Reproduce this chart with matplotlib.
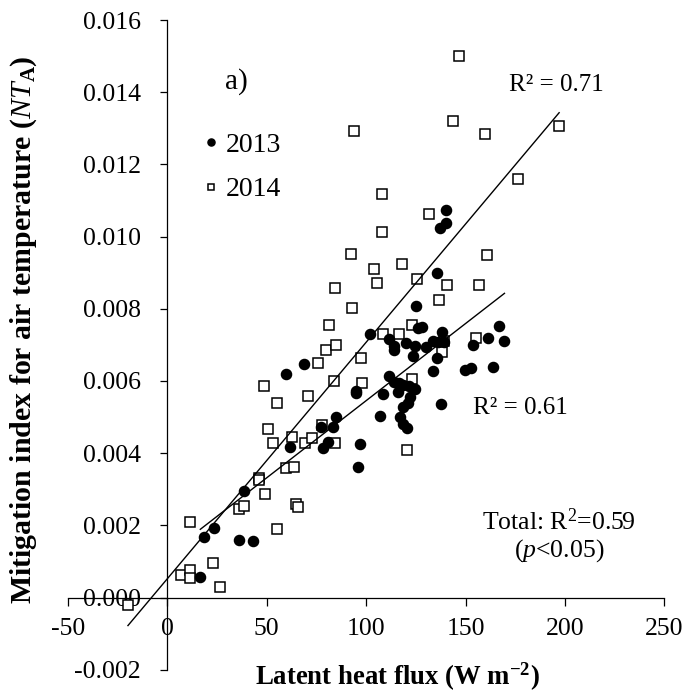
import matplotlib.pyplot as plt
import numpy as np

plt.rcParams["font.family"] = ["Liberation Serif", "DejaVu Serif"]
plt.rcParams["mathtext.fontset"] = "custom"
plt.rcParams["mathtext.rm"] = "Liberation Serif"
plt.rcParams["mathtext.it"] = "Liberation Serif:italic"
plt.rcParams["mathtext.bf"] = "Liberation Serif:bold"
plt.rcParams["mathtext.bfit"] = "Liberation Serif:bold:italic"

# 2013 (filled circles)
x_2013 = [16.6, 18.3, 23.6, 35.9, 43.1, 38.6, 59.7, 68.9, 61.8, 77.2,
          83.2, 85.0, 80.7, 78.2, 94.9, 94.9, 97.0, 95.8, 101.8, 106.8,
          108.4, 111.6, 114.0, 114.0, 119.9, 124.5, 123.8, 130.0, 133.5, 136.0,
          139.3, 135.8, 133.4, 126.3, 128.3, 138.3, 125.0, 135.8, 137.0, 140.0,
          140.0, 154.0, 161.2, 169.6, 166.8, 149.7, 152.7, 163.7, 111.6, 113.8,
          116.3, 118.8, 121.8, 124.6, 115.9, 122.0, 121.0, 118.8, 117.2, 118.8,
          120.8, 137.6]
y_2013 = [0.00058, 0.00168, 0.00192, 0.00159, 0.00157, 0.00295, 0.00619, 0.00646, 0.00418, 0.00472,
          0.00472, 0.00499, 0.00430, 0.00413, 0.00573, 0.00566, 0.00426, 0.00362, 0.00731, 0.00503,
          0.00563, 0.00716, 0.00697, 0.00686, 0.00704, 0.00698, 0.00670, 0.00693, 0.00711, 0.00709,
          0.00707, 0.00663, 0.00627, 0.00746, 0.00750, 0.00736, 0.00808, 0.00900, 0.01023, 0.01037,
          0.01073, 0.00700, 0.00720, 0.00712, 0.00753, 0.00630, 0.00636, 0.00639, 0.00614, 0.00598,
          0.00593, 0.00589, 0.00587, 0.00577, 0.00570, 0.00556, 0.00538, 0.00529, 0.00499, 0.00481,
          0.00470, 0.00536]

# 2014 (open squares)
x_2014 = [-19.8, 6.7, 11.2, 11.6, 11.6, 23.0, 26.5, 35.9, 38.7, 46.2,
          46.2, 48.9, 48.7, 50.4, 53.4, 55.0, 55.0, 59.6, 63.5, 62.5,
          64.6, 65.8, 69.1, 70.9, 73.0, 75.8, 77.7, 79.6, 81.3, 83.6,
          85.0, 84.5, 84.4, 93.0, 92.3, 94.0, 97.5, 98.1, 104.2, 105.4,
          107.9, 107.9, 108.4, 116.4, 118.2, 120.8, 123.0, 123.1, 125.6, 131.7,
          136.9, 138.0, 139.0, 140.7, 143.9, 146.7, 155.2, 156.6, 159.6, 160.8,
          176.6, 197.1]
y_2014 = [-0.00021, 0.00062, 0.00076, 0.00055, 0.00209, 0.00096, 0.00030, 0.00244, 0.00254, 0.00330,
          0.00326, 0.00286, 0.00586, 0.00466, 0.00429, 0.00540, 0.00189, 0.00360, 0.00362, 0.00446,
          0.00259, 0.00250, 0.00429, 0.00559, 0.00443, 0.00649, 0.00478, 0.00686, 0.00755, 0.00599,
          0.00700, 0.00429, 0.00857, 0.00803, 0.00953, 0.01293, 0.00663, 0.00593, 0.00909, 0.00870,
          0.01117, 0.01013, 0.00731, 0.00731, 0.00924, 0.00409, 0.00605, 0.00754, 0.00882, 0.01062,
          0.00824, 0.00679, 0.00710, 0.00867, 0.01321, 0.01501, 0.00720, 0.00867, 0.01284, 0.00950,
          0.01159, 0.01306]

x_ticks = [-50, 0, 50, 100, 150, 200, 250]
y_ticks = [-0.002, 0.0, 0.002, 0.004, 0.006, 0.008, 0.010, 0.012, 0.014, 0.016]

fig = plt.figure(figsize=(6.84, 6.95), dpi=100)
ax = fig.add_axes([0.0993, 0.0364, 0.8719, 0.9348])

ax.plot(x_2014, y_2014, ls="none", marker="s", ms=6.6, mfc="white", mec="black",
        mew=1.1, label="2014", zorder=3)
ax.plot(x_2013, y_2013, ls="none", marker="o", ms=7.3, mfc="black", mec="black",
        label="2013", zorder=4)

# linear trendlines over each year's data range
for xs, ys in [(x_2013, y_2013), (x_2014, y_2014)]:
    xs = np.array(xs)
    k, b = np.polyfit(xs, ys, 1)
    xx = np.array([xs.min(), xs.max()])
    ax.plot(xx, k * xx + b, color="black", lw=1.0, zorder=5)

ax.set_xlim(-50, 250)
ax.set_ylim(-0.002, 0.016)
ax.set_xticks(x_ticks)
ax.set_yticks(y_ticks)
ax.set_xticklabels([str(v) for v in x_ticks])
ax.set_yticklabels([f"{v:.3f}" for v in y_ticks])

ax.spines["left"].set_position(("data", 0))
ax.spines["bottom"].set_position(("data", 0))
ax.spines["top"].set_visible(False)
ax.spines["right"].set_visible(False)
for s in ["left", "bottom"]:
    ax.spines[s].set_linewidth(0.9)
ax.tick_params(axis="y", direction="out", length=5, width=0.9, pad=14, labelsize=18.5)
ax.tick_params(axis="x", direction="out", length=6, width=0.9, pad=9, labelsize=18.5)

ax.patch.set_alpha(0)

# legend
handles, labels = ax.get_legend_handles_labels()
leg = ax.legend(handles[::-1], labels[::-1], loc="upper left",
                bbox_to_anchor=(0.186, 0.866), frameon=False, fontsize=20,
                handletextpad=0.3, handlelength=0.5, labelspacing=0.7,
                markerscale=0.7)

ax.text(29, 0.0143, "a)", fontsize=21, ha="left", va="center")
ax.text(172, 0.0142, "R² = 0.71", fontsize=18, ha="left", va="center")
ax.text(154, 0.00525, "R² = 0.61", fontsize=18, ha="left", va="center")
ax.text(197, 0.00209, "Total: R$^2$=0.59", fontsize=18.5, ha="center", va="center")
ax.text(197, 0.00129, "($\\mathit{p}$<0.05)", fontsize=18.5, ha="center", va="center")

fig.text(0.035, 0.525, "Mitigation index for air temperature ($\\mathbf{\\mathit{NT}}_{\\mathbf{A}}$)",
         rotation=90, fontsize=21.5, fontweight="bold", ha="center", va="center")
fig.text(0.581, 0.026, "Latent heat flux (W m$^{\\mathbf{-2}}$)",
         fontsize=19.3, fontweight="bold", ha="center", va="center")

fig.savefig("out.png", dpi=100)
